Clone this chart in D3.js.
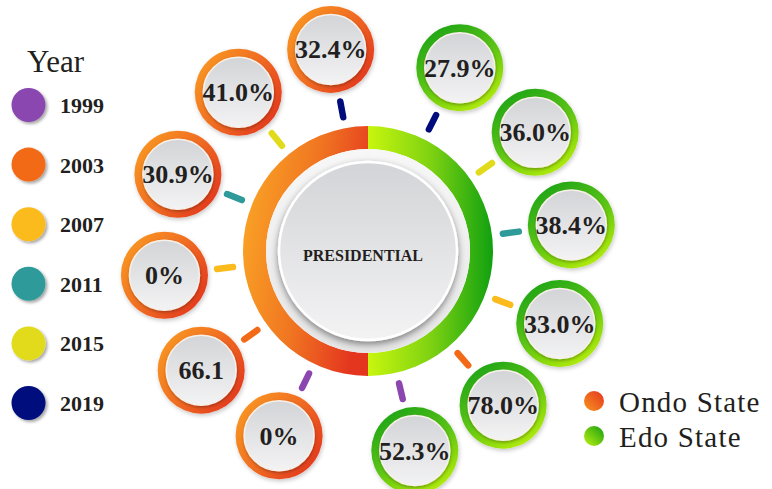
<!DOCTYPE html>
<html>
<head>
<meta charset="utf-8">
<script src="https://cdn.jsdelivr.net/npm/d3@7"></script>
<style>
  body { margin: 0; background: #ffffff; }
  svg { display: block; }
</style>
</head>
<body>
<svg id="chart" width="772" height="489"></svg>
<script>
// Election years and the colour key used for the small year markers
const years = ["1999", "2003", "2007", "2011", "2015", "2019"];
const yearColors = ["#8b46b0", "#f26a17", "#fbbb1d", "#2e9b9a", "#e2db1b", "#000c7b"];

// States (left half / right half of the ring)
const states = ["Ondo State", "Edo State"];

// Turnout labels per year, 1999 → 2019
const ondoLabels = ["0%", "66.1", "0%", "30.9%", "41.0%", "32.4%"];
const edoLabels = ["52.3%", "78.0%", "33.0%", "38.4%", "36.0%", "27.9%"];

const centerTitle = "PRESIDENTIAL";
const legendTitle = "Year";

// ---------------------------------------------------------------------------
const svg = d3.select("#chart");
const defs = svg.append("defs");
const cx = 368, cy = 251;
const serif = "'Liberation Serif', 'Times New Roman', serif";

// gradients
function linGrad(id, stops, attrs) {
  const g = defs.append("linearGradient").attr("id", id);
  Object.entries(attrs).forEach(([k, v]) => g.attr(k, v));
  stops.forEach(([o, c]) => g.append("stop").attr("offset", o).attr("stop-color", c));
  return g;
}
// ring halves are drawn inside a group centred on (cx, cy)
linGrad("ringOndo", [[0, "#f9a025"], [0.5, "#f07521"], [1, "#e4361f"]],
  { gradientUnits: "userSpaceOnUse", x1: -125, y1: -20, x2: 0, y2: 0 });
linGrad("ringEdo", [[0, "#c8f60e"], [0.5, "#7fd212"], [1, "#10a010"]],
  { gradientUnits: "userSpaceOnUse", x1: 0, y1: 0, x2: 125, y2: 0 });
linGrad("bubOndo", [[0, "#f99a22"], [0.5, "#f06b20"], [1, "#e2331f"]],
  { x1: 0, y1: 0.15, x2: 1, y2: 0.85 });
linGrad("bubEdo", [[0, "#1ba312"], [0.5, "#5cc412"], [1, "#bcf00f"]],
  { x1: 0.2, y1: 0, x2: 0.8, y2: 1 });
linGrad("dotOndo", [[0, "#f8961e"], [1, "#e4351f"]],
  { x1: 0, y1: 1, x2: 1, y2: 0 });
linGrad("dotEdo", [[0, "#c0f20e"], [1, "#139e12"]],
  { x1: 0, y1: 1, x2: 1, y2: 0 });
linGrad("face", [[0, "#d3d4d7"], [1, "#f3f3f4"]],
  { x1: 0, y1: 0, x2: 0, y2: 1 });
linGrad("band", [[0, "#f7f7f7"], [1, "#e6e6e7"]],
  { x1: 0, y1: 0, x2: 0, y2: 1 });

// shadows
function shadow(id, dx, dy, sd, op) {
  const f = defs.append("filter").attr("id", id)
    .attr("x", "-30%").attr("y", "-30%").attr("width", "160%").attr("height", "160%");
  f.append("feDropShadow").attr("dx", dx).attr("dy", dy)
    .attr("stdDeviation", sd).attr("flood-color", "#000").attr("flood-opacity", op);
}
shadow("shBubble", 1, 2, 2, 0.22);
shadow("shFace", 0, 3, 3.5, 0.45);
shadow("shInner", 0.5, 1.5, 1.5, 0.3);
shadow("shDot", 2, 2, 1.5, 0.35);

// ---------------------------------------------------------------------------
// central ring, split between the two states
const pie = d3.pie().value(1).sort(null).startAngle(Math.PI).endAngle(3 * Math.PI);
const ringArc = d3.arc().innerRadius(102).outerRadius(125);
const ringFill = { "Ondo State": "url(#ringOndo)", "Edo State": "url(#ringEdo)" };

const centre = svg.append("g").attr("transform", `translate(${cx},${cy})`);
centre.selectAll("path.ring")
  .data(pie(states))
  .join("path")
  .attr("class", "ring")
  .attr("d", ringArc)
  .attr("fill", d => ringFill[d.data]);

centre.append("circle").attr("r", 102).attr("fill", "url(#band)");
centre.append("circle").attr("r", 89)
  .attr("fill", "url(#face)")
  .attr("stroke", "#ffffff").attr("stroke-width", 2.5)
  .attr("filter", "url(#shFace)");
centre.append("text")
  .attr("x", -5).attr("y", 10)
  .attr("text-anchor", "middle")
  .attr("font-family", serif).attr("font-weight", "bold")
  .attr("font-size", 16).attr("fill", "#231f20")
  .text(centerTitle);

// ---------------------------------------------------------------------------
// bubbles around the ring, one per state and year
const angleOndo = d3.scalePoint().domain(years).range([-154.3, -10.5]);
const angleEdo = d3.scalePoint().domain(years).range([166.8, 26.6]);
const colorYear = d3.scaleOrdinal().domain(years).range(yearColors);

const bubbleDist = 205, dashIn = 136, dashOut = 152;
const polar = (deg, r) => {
  const a = deg * Math.PI / 180;
  return [cx + r * Math.sin(a), cy - r * Math.cos(a)];
};

const bubbles = [];
years.forEach((y, i) => {
  bubbles.push({ state: "Ondo State", year: y, label: ondoLabels[i], angle: angleOndo(y), fill: "url(#bubOndo)" });
  bubbles.push({ state: "Edo State", year: y, label: edoLabels[i], angle: angleEdo(y), fill: "url(#bubEdo)" });
});

// year markers between ring and bubbles
svg.append("g").selectAll("line")
  .data(bubbles)
  .join("line")
  .each(function (d) {
    const [x1, y1] = polar(d.angle, dashIn);
    const [x2, y2] = polar(d.angle, dashOut);
    d3.select(this).attr("x1", x1).attr("y1", y1).attr("x2", x2).attr("y2", y2);
  })
  .attr("stroke", d => colorYear(d.year))
  .attr("stroke-width", 6.5)
  .attr("stroke-linecap", "round");

const bub = svg.append("g").selectAll("g")
  .data(bubbles)
  .join("g")
  .attr("transform", d => `translate(${polar(d.angle, bubbleDist)})`);

bub.append("circle").attr("r", 43.5).attr("fill", d => d.fill).attr("filter", "url(#shBubble)");
bub.append("circle").attr("r", 35)
  .attr("fill", "url(#face)")
  .attr("stroke", "#f8f1ea").attr("stroke-width", 1.5)
  .attr("filter", "url(#shInner)");
bub.append("text")
  .attr("y", 9)
  .attr("text-anchor", "middle")
  .attr("font-family", serif).attr("font-weight", "bold")
  .attr("font-size", 26).attr("fill", "#231f20")
  .text(d => d.label);

// ---------------------------------------------------------------------------
// year legend
const legendY = d3.scalePoint().domain(years).range([105, 403]);
svg.append("text")
  .attr("x", 27).attr("y", 72)
  .attr("font-family", serif).attr("font-size", 31).attr("fill", "#231f20")
  .text(legendTitle);

const yl = svg.append("g").selectAll("g")
  .data(years)
  .join("g")
  .attr("transform", d => `translate(0,${legendY(d)})`);
yl.append("circle").attr("cx", 28.5).attr("r", 17)
  .attr("fill", d => colorYear(d)).attr("filter", "url(#shDot)");
yl.append("text")
  .attr("x", 60).attr("y", 8)
  .attr("font-family", serif).attr("font-weight", "bold")
  .attr("font-size", 22).attr("fill", "#231f20")
  .text(d => d);

// state legend
const stateY = d3.scalePoint().domain(states).range([401, 436]);
const dotFill = { "Ondo State": "url(#dotOndo)", "Edo State": "url(#dotEdo)" };
const sl = svg.append("g").selectAll("g")
  .data(states)
  .join("g")
  .attr("transform", d => `translate(0,${stateY(d)})`);
sl.append("circle").attr("cx", 594).attr("r", 10).attr("fill", d => dotFill[d]);
sl.append("text")
  .attr("x", 619).attr("y", 10.5)
  .attr("font-family", serif).attr("font-size", 29)
  .attr("letter-spacing", 1.2).attr("fill", "#231f20")
  .text(d => d);
</script>
</body>
</html>
